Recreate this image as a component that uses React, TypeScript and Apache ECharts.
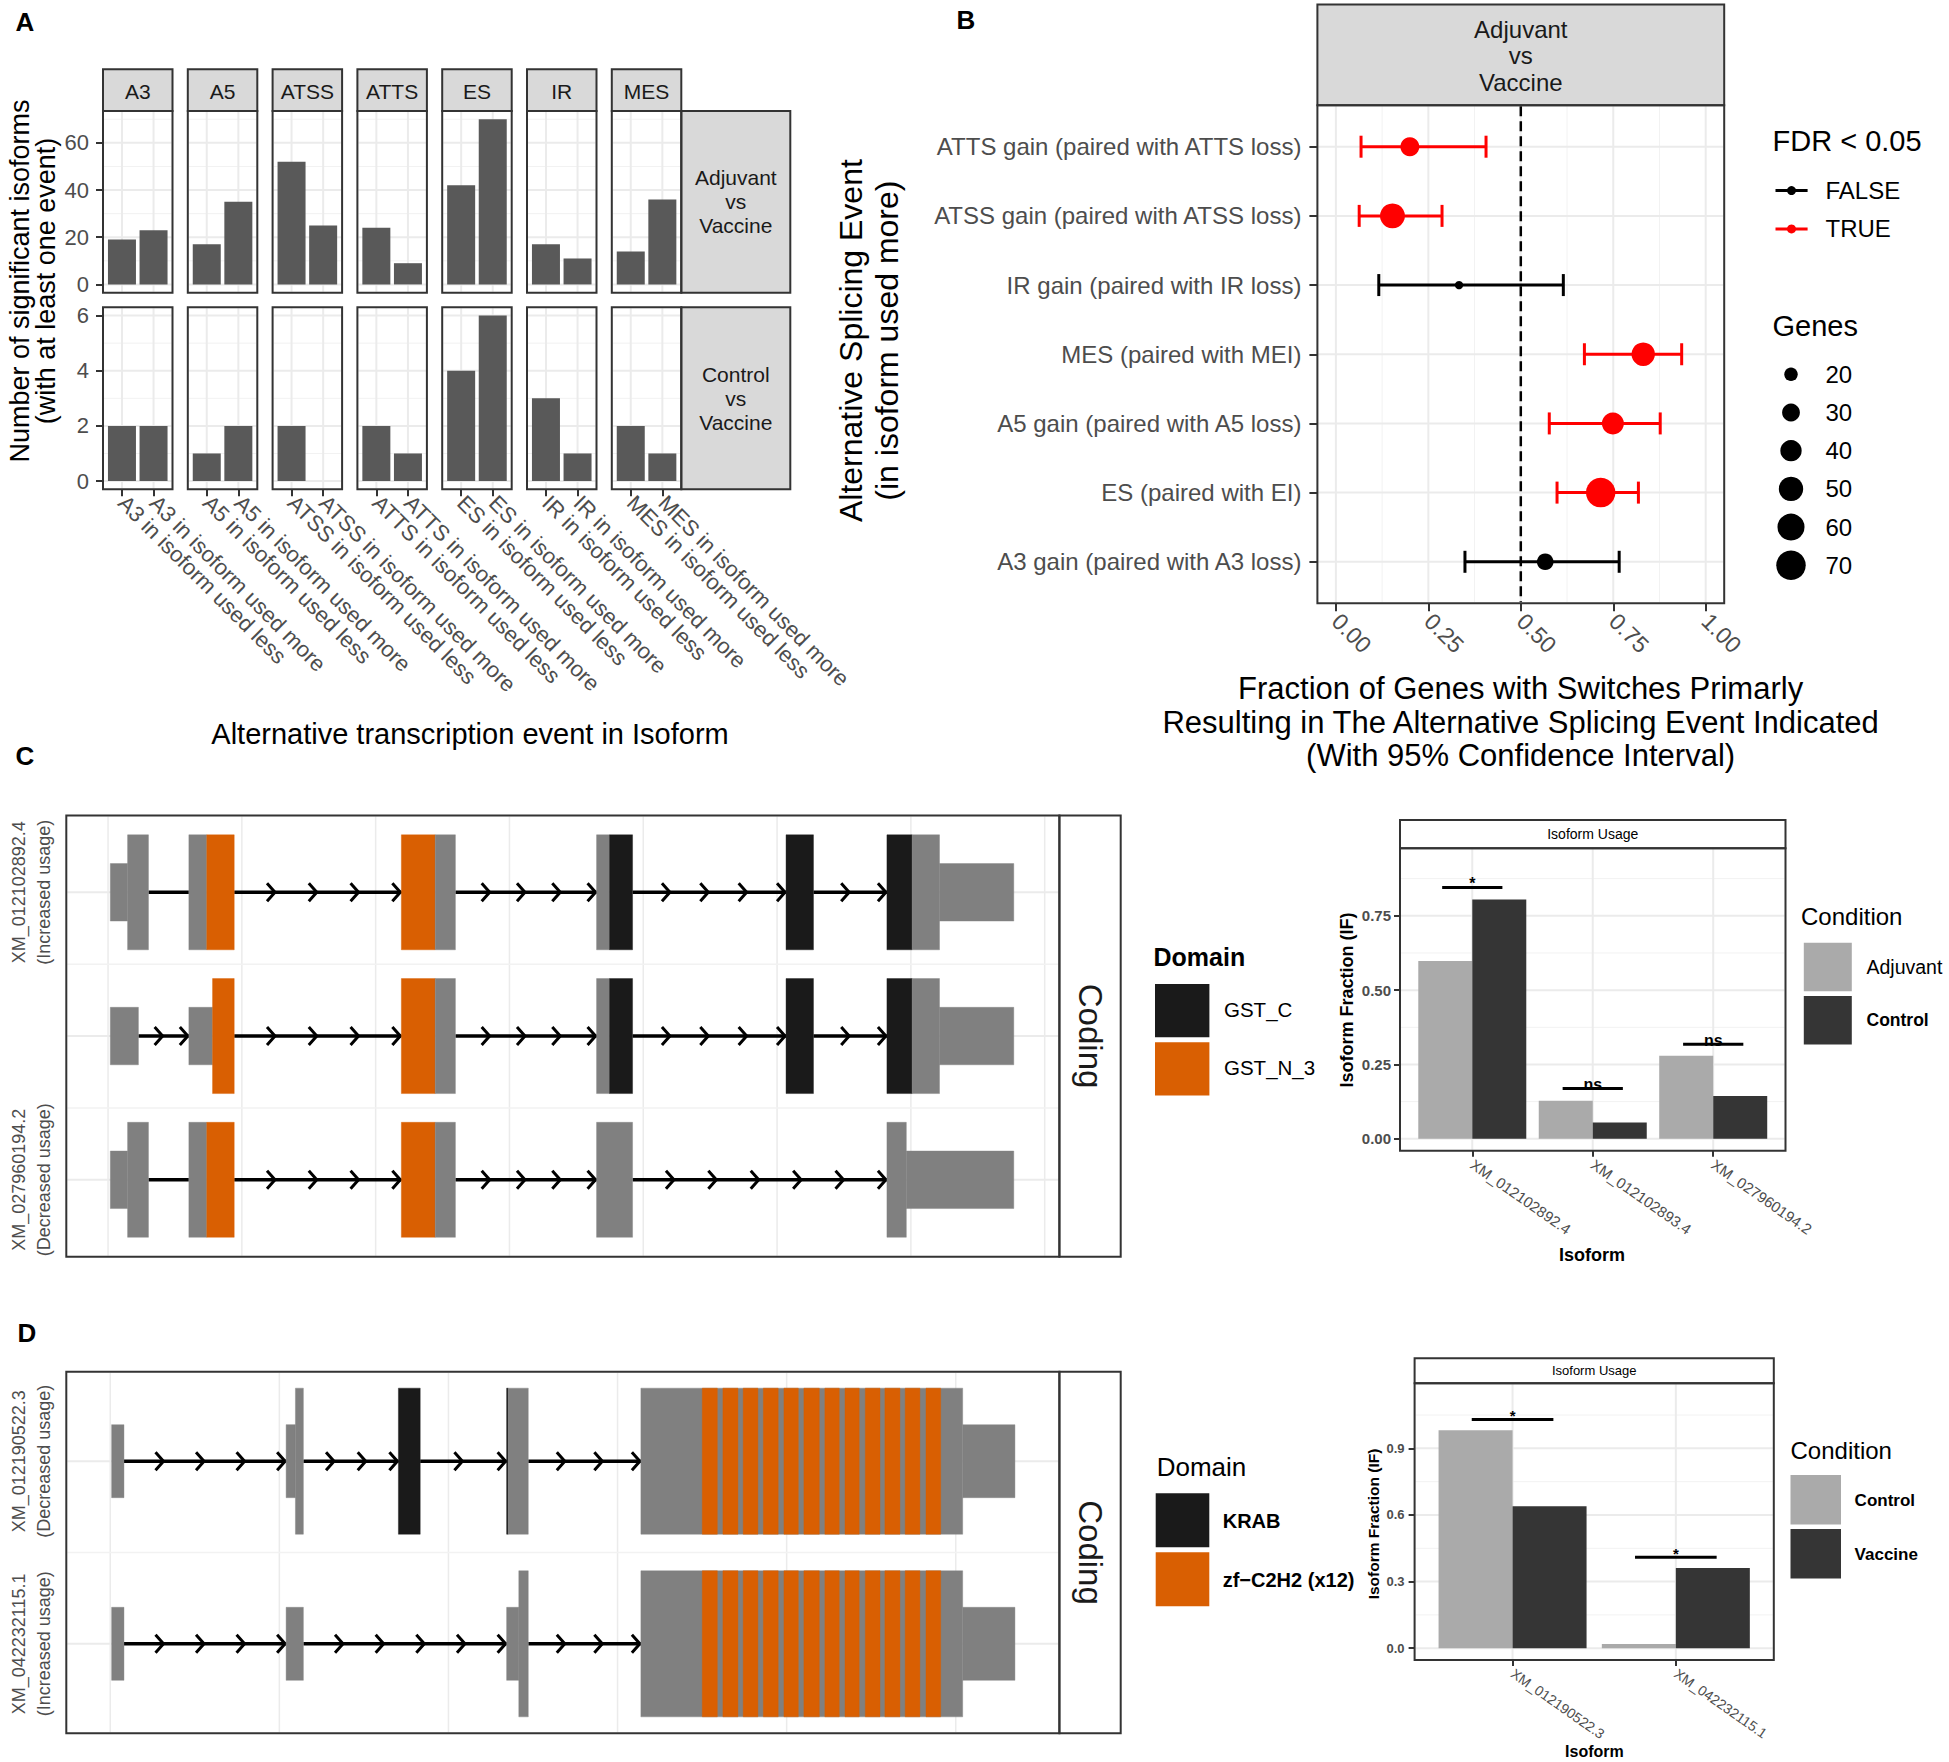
import React, { useEffect, useRef } from "react";
import * as echarts from "echarts";

// ================= DATA =================
// Panel A
const A_FACETS = ["A3", "A5", "ATSS", "ATTS", "ES", "IR", "MES"];
const A_ROW_LABELS = ["Adjuvant\nvs\nVaccine", "Control\nvs\nVaccine"];
const A_SIDES = ["less", "more"];
const A_ADJ_LESS = [19, 17, 52, 24, 42, 17, 14];
const A_ADJ_MORE = [23, 35, 25, 9, 70, 11, 36];
const A_CTRL_LESS = [2, 1, 2, 2, 4, 3, 2];
const A_CTRL_MORE = [2, 2, 0, 1, 6, 1, 1];
const A_ADJ_TICKS = [0, 20, 40, 60];
const A_ADJ_MINOR = [10, 30, 50, 70];
const A_CTRL_TICKS = [0, 2, 4, 6];
const A_CTRL_MINOR = [1, 3, 5];

// Panel B
const B_EVENTS = [
  "ATTS gain (paired with ATTS loss)",
  "ATSS gain (paired with ATSS loss)",
  "IR gain (paired with IR loss)",
  "MES (paired with MEI)",
  "A5 gain (paired with A5 loss)",
  "ES (paired with EI)",
  "A3 gain (paired with A3 loss)",
];
const B_FRACTION = [0.2, 0.153, 0.333, 0.831, 0.749, 0.716, 0.566];
const B_CI_LOW = [0.068, 0.063, 0.116, 0.672, 0.577, 0.598, 0.349];
const B_CI_HIGH = [0.406, 0.287, 0.615, 0.935, 0.877, 0.818, 0.766];
const B_GENES = [33, 52, 12, 47, 42, 70, 27];
const B_FDR_SIG = [true, true, false, true, true, true, false];
const B_X_TICKS = [0, 0.25, 0.5, 0.75, 1];
const B_X_MINOR = [0.125, 0.375, 0.625, 0.875];
const B_GENE_LEGEND = [20, 30, 40, 50, 60, 70];
const B_FDR_LEGEND = ["FALSE", "TRUE"];

// Panel C
const C_ISOFORMS = ["XM_012102892.4", "XM_012102893.4", "XM_027960194.2"];
const C_USAGE = ["(Increased usage)", "(Unchanged usage)", "(Decreased usage)"];
const C_EXONS: [number, number, number, string][] = [
  [1, 0.017, 0.146, "utr"], [1, 0.146, 0.302, "cds"],
  [1, 0.604, 0.738, "cds"], [1, 0.738, 0.943, "GST_N_3"],
  [1, 2.192, 2.445, "GST_N_3"], [1, 2.445, 2.596, "cds"],
  [1, 3.651, 3.748, "cds"], [1, 3.748, 3.92, "GST_C"],
  [1, 5.067, 5.272, "GST_C"],
  [1, 5.821, 6.009, "GST_C"], [1, 6.009, 6.214, "cds"], [1, 6.214, 6.769, "utr"],
  [2, 0.017, 0.227, "utr"],
  [2, 0.604, 0.781, "utr"], [2, 0.781, 0.943, "GST_N_3"],
  [2, 2.192, 2.445, "GST_N_3"], [2, 2.445, 2.596, "cds"],
  [2, 3.651, 3.748, "cds"], [2, 3.748, 3.92, "GST_C"],
  [2, 5.067, 5.272, "GST_C"],
  [2, 5.821, 6.009, "GST_C"], [2, 6.009, 6.214, "cds"], [2, 6.214, 6.769, "utr"],
  [3, 0.017, 0.146, "utr"], [3, 0.146, 0.302, "cds"],
  [3, 0.604, 0.738, "cds"], [3, 0.738, 0.943, "GST_N_3"],
  [3, 2.192, 2.445, "GST_N_3"], [3, 2.445, 2.596, "cds"],
  [3, 3.651, 3.92, "cds"],
  [3, 5.821, 5.966, "cds"], [3, 5.966, 6.769, "utr"],
];
const C_INTRONS: [number, number, number, number][] = [
  [1, 0.302, 0.604, 0], [1, 0.943, 2.192, 4], [1, 2.596, 3.651, 4], [1, 3.92, 5.067, 4], [1, 5.272, 5.821, 2],
  [2, 0.227, 0.604, 2], [2, 0.943, 2.192, 4], [2, 2.596, 3.651, 4], [2, 3.92, 5.067, 4], [2, 5.272, 5.821, 2],
  [3, 0.302, 0.604, 0], [3, 0.943, 2.192, 4], [3, 2.596, 3.651, 4], [3, 3.92, 5.821, 6],
];
const C_DOMAINS = ["GST_C", "GST_N_3"];
const C_CONDITIONS = ["Adjuvant", "Control"];
const C_IF_ADJUVANT = [0.598, 0.128, 0.279];
const C_IF_CONTROL = [0.805, 0.055, 0.144];
const C_SIG_Y = [0.8455, 0.169, 0.318];
const C_SIG_LABEL = ["*", "ns", "ns"];
const C_IF_TICKS = [0, 0.25, 0.5, 0.75];
const C_IF_MINOR = [0.125, 0.375, 0.625, 0.875];
const C_GENOME_GRID = [0, 1, 2, 3, 4, 5, 6, 7];

// Panel D
const D_ISOFORMS = ["XM_012190522.3", "XM_042232115.1"];
const D_USAGE = ["(Decreased usage)", "(Increased usage)"];
const D_EXONS: [number, number, number, string][] = [
  [1, 0.008, 0.081, "utr"],
  [1, 1.04, 1.095, "utr"], [1, 1.095, 1.142, "cds"],
  [1, 1.704, 1.833, "KRAB"],
  [1, 2.344, 2.353, "KRAB"], [1, 2.353, 2.472, "cds"],
  [1, 3.138, 5.041, "cds"], [1, 5.041, 5.35, "utr"],
  [2, 0.008, 0.081, "utr"],
  [2, 1.04, 1.142, "utr"],
  [2, 2.344, 2.416, "utr"], [2, 2.416, 2.472, "cds"],
  [2, 3.138, 5.041, "cds"], [2, 5.041, 5.35, "utr"],
];
const D_ZF_ROWS = [1, 2];
const D_ZF_START = [3.501, 3.623, 3.743, 3.862, 3.984, 4.102, 4.226, 4.345, 4.465, 4.581, 4.701, 4.824];
const D_ZF_END = [3.59, 3.712, 3.83, 3.95, 4.069, 4.193, 4.311, 4.429, 4.552, 4.67, 4.788, 4.911];
const D_INTRONS: [number, number, number, number][] = [
  [1, 0.081, 1.04, 4], [1, 1.142, 1.704, 3], [1, 1.833, 2.344, 2], [1, 2.472, 3.138, 3],
  [2, 0.081, 1.04, 4], [2, 1.142, 2.344, 5], [2, 2.472, 3.138, 3],
];
const D_DOMAINS = ["KRAB", "zf\u2212C2H2 (x12)"];
const D_CONDITIONS = ["Control", "Vaccine"];
const D_IF_CONTROL = [0.982, 0.019];
const D_IF_VACCINE = [0.639, 0.361];
const D_SIG_Y = [1.03, 0.41];
const D_SIG_LABEL = ["*", "*"];
const D_IF_TICKS = [0, 0.3, 0.6, 0.9];
const D_IF_MINOR = [0.15, 0.45, 0.75, 1.05];
const D_GENOME_GRID = [0, 1, 2, 3, 4, 5];

// ================= STYLE =================
const FONT = "'Liberation Sans', Arial, Helvetica, sans-serif";
const GRAY_TXT = "#4D4D4D";
const BORDER = "#333333";
const STRIP = "#D9D9D9";
const GRID_MAJOR = "#EBEBEB";
const GRID_MINOR = "#F2F2F2";
const RED = "#FF0000";
const ORANGE = "#D95F02";
const DARK = "#1A1A1A";
const EXON_GRAY = "#808080";
const BAR_A = "#595959";
const COND_LIGHT = "#AAAAAA";
const COND_DARK = "#353535";
const KINDS = ["utr", "cds", "GST_C", "GST_N_3", "KRAB", "zf-C2H2"];
const KIND_COLOR = [EXON_GRAY, EXON_GRAY, DARK, ORANGE, DARK, ORANGE];

const geneSize = (g: number) => Math.sqrt(Math.max(9, -96.5 + 13.8 * g));

type R = { x: number; y: number; w: number; h: number };

function buildOption() {
  const grids: any[] = [];
  const xAxes: any[] = [];
  const yAxes: any[] = [];
  const series: any[] = [];
  const graphics: any[] = [];

  const txt = (x: number, y: number, text: string, size: number, o: any = {}) => ({
    type: "text",
    x,
    y,
    rotation: o.rotation || 0,
    z: 100,
    silent: true,
    style: {
      text,
      fontSize: size,
      fontFamily: FONT,
      fontWeight: o.weight || "normal",
      fill: o.color || "#000",
      align: o.align || "center",
      textAlign: o.align || "center",
      verticalAlign: o.valign || "middle",
      textVerticalAlign: o.valign || "middle",
      lineHeight: o.lineHeight,
    },
  });
  const box = (r: R, fill: string, stroke: string | null, lw = 2, z = 90) => ({
    type: "rect",
    z,
    silent: true,
    shape: { x: r.x, y: r.y, width: r.w, height: r.h },
    style: { fill, stroke: stroke || undefined, lineWidth: stroke ? lw : 0 },
  });

  const axisCfg = (c: any) => ({
    type: "value",
    min: c.min,
    max: c.max,
    inverse: !!c.inverse,
    axisLine: { show: false, onZero: false },
    splitLine: { show: false },
    splitArea: { show: false },
    minorTick: { show: false },
    minorSplitLine: { show: false },
    axisTick: c.ticks
      ? { show: c.showTicks !== false, customValues: c.ticks, length: c.tickLen || 7, lineStyle: { color: BORDER, width: 2 } }
      : { show: false },
    axisLabel: c.ticks && c.labels
      ? {
          show: true,
          customValues: c.ticks,
          showMinLabel: true,
          showMaxLabel: true,
          hideOverlap: false,
          formatter: c.formatter,
          fontSize: c.fontSize,
          rotate: c.rotate || 0,
          margin: c.margin,
          color: c.color || GRAY_TXT,
          fontWeight: c.weight || "normal",
          fontFamily: FONT,
          lineHeight: c.lineHeight,
        }
      : { show: false },
  });

  const addPanel = (r: R, xc: any, yc: any, bw = 2) => {
    const gi = grids.length;
    grids.push({ left: r.x, top: r.y, width: r.w, height: r.h, show: false, containLabel: false, outerBoundsMode: "none" });
    xAxes.push({ gridIndex: gi, ...axisCfg(xc) });
    yAxes.push({ gridIndex: gi, ...axisCfg(yc) });
    graphics.push(box(r, "none", BORDER, bw, 95));
    return gi;
  };

  const gridLines = (gi: number, values: number[], orient: "h" | "v", color: string, width: number, dash?: number[]) => ({
    type: "custom",
    xAxisIndex: gi,
    yAxisIndex: gi,
    z: 1,
    silent: true,
    data: values.map((v) => [v]),
    renderItem: (params: any, api: any) => {
      const cs = params.coordSys;
      const v = api.value(0);
      const p = api.coord([v, v]);
      const shape =
        orient === "h"
          ? { x1: cs.x + 1, y1: p[1], x2: cs.x + cs.width - 1, y2: p[1] }
          : { x1: p[0], y1: cs.y + 1, x2: p[0], y2: cs.y + cs.height - 1 };
      return { type: "line", shape, style: { stroke: color, lineWidth: width, lineDash: dash } };
    },
  });

  const exonSeries = (gi: number, exons: [number, number, number, string][]) => ({
    type: "custom",
    xAxisIndex: gi,
    yAxisIndex: gi,
    z: 3,
    silent: true,
    data: exons.map(([row, s, e, k]) => [s, row, e, KINDS.indexOf(k)]),
    renderItem: (params: any, api: any) => {
      const s = api.value(0), row = api.value(1), e = api.value(2), k = api.value(3);
      const p1 = api.coord([s, row]);
      const p2 = api.coord([e, row]);
      const unit = Math.abs(api.size([0, 1])[1]);
      const h = (KINDS[k] === "utr" ? 0.4 : 0.8) * unit;
      return {
        type: "rect",
        shape: { x: p1[0], y: p1[1] - h / 2, width: p2[0] - p1[0], height: h },
        style: { fill: KIND_COLOR[k], stroke: KIND_COLOR[k], lineWidth: 0.4 },
      };
    },
  });

  const intronSeries = (gi: number, introns: [number, number, number, number][]) => ({
    type: "custom",
    xAxisIndex: gi,
    yAxisIndex: gi,
    z: 2,
    silent: true,
    data: introns.map(([row, s, e, n]) => [s, row, e, n]),
    renderItem: (params: any, api: any) => {
      const s = api.value(0), row = api.value(1), e = api.value(2), n = api.value(3);
      const p1 = api.coord([s, row]);
      const p2 = api.coord([e, row]);
      const y = p1[1];
      const children: any[] = [
        { type: "line", shape: { x1: p1[0], y1: y, x2: p2[0], y2: y }, style: { stroke: "#000", lineWidth: 3.5 } },
      ];
      for (let k = 1; k <= n; k++) {
        const tx = p1[0] + ((p2[0] - p1[0]) * k) / n - 1;
        children.push({
          type: "polyline",
          shape: { points: [[tx - 8, y - 9], [tx, y], [tx - 8, y + 9]] },
          style: { stroke: "#000", lineWidth: 3, fill: "none" },
        });
      }
      return { type: "group", children };
    },
  });

  const sigSeries = (gi: number, ys: number[], labels: string[], fontSize: number) => ({
    type: "custom",
    xAxisIndex: gi,
    yAxisIndex: gi,
    z: 4,
    silent: true,
    data: ys.map((y, k) => [k + 1, y]),
    renderItem: (params: any, api: any) => {
      const c = api.value(0), y = api.value(1);
      const p1 = api.coord([c - 0.25, y]);
      const p2 = api.coord([c + 0.25, y]);
      return {
        type: "group",
        children: [
          { type: "line", shape: { x1: p1[0], y1: p1[1], x2: p2[0], y2: p2[1] }, style: { stroke: "#000", lineWidth: 3 } },
          {
            type: "text",
            x: (p1[0] + p2[0]) / 2,
            y: p1[1] + 4,
            style: {
              text: labels[params.dataIndex],
              fontSize,
              fontFamily: FONT,
              fontWeight: "bold",
              fill: "#000",
              align: "center",
              textAlign: "center",
              verticalAlign: "bottom",
              textVerticalAlign: "bottom",
            },
          },
        ],
      };
    },
  });

  // ---------- Panel letters ----------
  graphics.push(txt(25, 22, "A", 26, { weight: "bold" }));
  graphics.push(txt(966, 20, "B", 26, { weight: "bold" }));
  graphics.push(txt(25, 756, "C", 26, { weight: "bold" }));
  graphics.push(txt(27, 1333, "D", 26, { weight: "bold" }));

  // ---------- Panel A ----------
  const A_LEFT0 = 103, A_STEP = 84.8, A_W = 69.5;
  const A_ROW_TOP = [111, 307.3];
  const A_ROW_H = [181.7, 182];
  const aRows = [
    { less: A_ADJ_LESS, more: A_ADJ_MORE, ticks: A_ADJ_TICKS, minor: A_ADJ_MINOR },
    { less: A_CTRL_LESS, more: A_CTRL_MORE, ticks: A_CTRL_TICKS, minor: A_CTRL_MINOR },
  ];
  aRows.forEach((row, r) => {
    const maxV = Math.max(...row.less, ...row.more);
    const yMin = -maxV * 0.05, yMax = maxV * 1.05;
    A_FACETS.forEach((facet, i) => {
      const rect = { x: A_LEFT0 + i * A_STEP, y: A_ROW_TOP[r], w: A_W, h: A_ROW_H[r] };
      const gi = addPanel(
        rect,
        {
          min: 0.4, max: 2.6, ticks: [1, 2], showTicks: r === 1, labels: r === 1,
          formatter: (v: number) => `${facet} in isoform used ${A_SIDES[Math.round(v) - 1]}`,
          fontSize: 22, rotate: -45, margin: 10,
        },
        {
          min: yMin, max: yMax, ticks: row.ticks, showTicks: i === 0, labels: i === 0,
          formatter: (v: number) => String(v), fontSize: 22, margin: 14,
        }
      );
      series.push(gridLines(gi, row.minor, "h", GRID_MINOR, 1));
      series.push(gridLines(gi, row.ticks, "h", GRID_MAJOR, 2));
      series.push(gridLines(gi, [1, 2], "v", GRID_MAJOR, 2));
      series.push({
        type: "bar",
        xAxisIndex: gi,
        yAxisIndex: gi,
        z: 2,
        silent: true,
        barWidth: 28,
        itemStyle: { color: BAR_A },
        data: [[1, row.less[i]], [2, row.more[i]]],
      });
      if (r === 0) {
        const s = { x: rect.x, y: 69.3, w: A_W, h: 41.7 };
        graphics.push(box(s, STRIP, BORDER, 2));
        graphics.push(txt(s.x + s.w / 2, s.y + s.h / 2 + 1, facet, 21, { color: DARK }));
      }
    });
    const rs = { x: A_LEFT0 + 6 * A_STEP + A_W, y: A_ROW_TOP[r], w: 109, h: A_ROW_H[r] };
    graphics.push(box(rs, STRIP, BORDER, 2));
    graphics.push(txt(rs.x + rs.w / 2, rs.y + rs.h / 2, A_ROW_LABELS[r], 21, { color: DARK, lineHeight: 24 }));
  });
  graphics.push(
    txt(33, 281, "Number of significant isoforms\n(with at least one event)", 27, { rotation: Math.PI / 2, lineHeight: 26 })
  );
  graphics.push(txt(470, 734, "Alternative transcription event in Isoform", 29));

  // ---------- Panel B ----------
  const bRect = { x: 1317.4, y: 105.2, w: 406.8, h: 498.1 };
  const bIdx = B_EVENTS.map((_, k) => k + 1);
  const bg = addPanel(
    bRect,
    {
      min: -0.05, max: 1.05, ticks: B_X_TICKS, labels: true, tickLen: 8,
      formatter: (v: number) => v.toFixed(2), fontSize: 23, rotate: -45, margin: 14,
    },
    {
      min: 0.4, max: 7.6, inverse: true, ticks: bIdx, labels: true, tickLen: 8,
      formatter: (v: number) => B_EVENTS[Math.round(v) - 1], fontSize: 24, margin: 16,
    }
  );
  series.push(gridLines(bg, B_X_MINOR, "v", GRID_MINOR, 1));
  series.push(gridLines(bg, B_X_TICKS, "v", GRID_MAJOR, 2));
  series.push(gridLines(bg, bIdx, "h", GRID_MAJOR, 2));
  series.push({ ...gridLines(bg, [0.5], "v", "#000", 2.5, [10, 5]), z: 2 });
  series.push({
    type: "custom",
    xAxisIndex: bg,
    yAxisIndex: bg,
    z: 3,
    silent: true,
    data: bIdx.map((k, j) => [B_CI_LOW[j], k, B_CI_HIGH[j], B_FDR_SIG[j] ? 1 : 0]),
    renderItem: (params: any, api: any) => {
      const lo = api.coord([api.value(0), api.value(1)]);
      const hi = api.coord([api.value(2), api.value(1)]);
      const color = api.value(3) ? RED : "#000";
      const h = 11;
      const st = { stroke: color, lineWidth: 3 };
      return {
        type: "group",
        children: [
          { type: "line", shape: { x1: lo[0], y1: lo[1], x2: hi[0], y2: hi[1] }, style: st },
          { type: "line", shape: { x1: lo[0], y1: lo[1] - h, x2: lo[0], y2: lo[1] + h }, style: st },
          { type: "line", shape: { x1: hi[0], y1: hi[1] - h, x2: hi[0], y2: hi[1] + h }, style: st },
        ],
      };
    },
  });
  [false, true].forEach((sig) => {
    series.push({
      type: "scatter",
      name: sig ? "TRUE" : "FALSE",
      xAxisIndex: bg,
      yAxisIndex: bg,
      z: 5,
      silent: true,
      symbol: "circle",
      symbolSize: (val: number[]) => geneSize(val[2]),
      itemStyle: { color: sig ? RED : "#000", opacity: 1 },
      data: bIdx
        .map((k, j) => (B_FDR_SIG[j] === sig ? [B_FRACTION[j], k, B_GENES[j]] : null))
        .filter((d) => d !== null),
    });
  });
  const bStrip = { x: bRect.x, y: 4.6, w: bRect.w, h: 100.6 };
  graphics.push(box(bStrip, STRIP, BORDER, 2));
  graphics.push(txt(bStrip.x + bStrip.w / 2, bStrip.y + bStrip.h / 2 + 1, "Adjuvant\nvs\nVaccine", 24, { color: DARK, lineHeight: 26.5 }));
  graphics.push(
    txt(869, 340.6, "Alternative Splicing Event\n(in isoform used more)", 32, { rotation: Math.PI / 2, lineHeight: 35.5 })
  );
  graphics.push(
    txt(
      1520.6,
      722,
      "Fraction of Genes with Switches Primarly\nResulting in The Alternative Splicing Event Indicated\n(With 95% Confidence Interval)",
      31,
      { lineHeight: 33.5 }
    )
  );
  // B legend
  graphics.push(txt(1772.5, 141, "FDR < 0.05", 29, { align: "left" }));
  B_FDR_LEGEND.forEach((lab, k) => {
    const y = 190.6 + k * 38.3;
    const col = k === 1 ? RED : "#000";
    graphics.push({ type: "line", z: 100, silent: true, shape: { x1: 1775.5, y1: y, x2: 1807.6, y2: y }, style: { stroke: col, lineWidth: 3 } });
    graphics.push({ type: "circle", z: 101, silent: true, shape: { cx: 1791.5, cy: y, r: 4.5 }, style: { fill: col } });
    graphics.push(txt(1825.5, y, lab, 24, { align: "left" }));
  });
  graphics.push(txt(1772.5, 325.5, "Genes", 29, { align: "left" }));
  B_GENE_LEGEND.forEach((g, k) => {
    const y = 374.3 + k * 38.2;
    graphics.push({ type: "circle", z: 101, silent: true, shape: { cx: 1791, cy: y, r: geneSize(g) / 2 }, style: { fill: "#000" } });
    graphics.push(txt(1825.5, y, String(g), 24, { align: "left" }));
  });

  // ---------- Panel C (transcripts) ----------
  const cRect = { x: 66.3, y: 815.4, w: 993.1, h: 441.3 };
  const cg = addPanel(
    cRect,
    { min: -0.312, max: 7.11 },
    {
      min: 0.465, max: 3.535, inverse: true, ticks: [1, 2, 3], showTicks: false, labels: true,
      formatter: (v: number) => `${C_ISOFORMS[Math.round(v) - 1]}\n${C_USAGE[Math.round(v) - 1]}`,
      fontSize: 18, rotate: 90, margin: 10, lineHeight: 25,
    }
  );
  series.push(gridLines(cg, C_GENOME_GRID, "v", GRID_MAJOR, 1.5));
  series.push(gridLines(cg, [1.5, 2.5], "h", GRID_MINOR, 1.5));
  series.push(gridLines(cg, [1, 2, 3], "h", GRID_MAJOR, 2));
  series.push(intronSeries(cg, C_INTRONS));
  series.push(exonSeries(cg, C_EXONS));
  const cCoding = { x: 1059.4, y: cRect.y, w: 61.3, h: cRect.h };
  graphics.push(box(cCoding, "#fff", BORDER, 2));
  graphics.push(txt(cCoding.x + cCoding.w / 2, cCoding.y + cCoding.h / 2, "Coding", 33, { rotation: -Math.PI / 2, color: DARK }));

  // C domain legend
  graphics.push(txt(1153.5, 956.7, "Domain", 25, { align: "left", weight: "bold" }));
  C_DOMAINS.forEach((d, k) => {
    const y = 984 + k * 58.3;
    graphics.push(box({ x: 1155, y, w: 54.4, h: 53.3 }, k === 0 ? DARK : ORANGE, null, 0, 100));
    graphics.push(txt(1224, y + 25, d, 20.5, { align: "left" }));
  });

  // C isoform usage
  const crRect = { x: 1400, y: 848.3, w: 385.5, h: 302.4 };
  const crg = addPanel(
    crRect,
    {
      min: 0.4, max: 3.6, ticks: [1, 2, 3], labels: true, tickLen: 6,
      formatter: (v: number) => C_ISOFORMS[Math.round(v) - 1], fontSize: 15, rotate: -35, margin: 12,
    },
    {
      min: -0.04, max: 0.977, ticks: C_IF_TICKS, labels: true, tickLen: 6,
      formatter: (v: number) => v.toFixed(2), fontSize: 15, margin: 9, weight: "bold",
    }
  );
  series.push(gridLines(crg, C_IF_MINOR, "h", GRID_MINOR, 1));
  series.push(gridLines(crg, C_IF_TICKS, "h", GRID_MAJOR, 2));
  series.push(gridLines(crg, [1, 2, 3], "v", GRID_MAJOR, 2));
  [C_IF_ADJUVANT, C_IF_CONTROL].forEach((vals, k) => {
    series.push({
      type: "bar",
      name: C_CONDITIONS[k],
      xAxisIndex: crg,
      yAxisIndex: crg,
      z: 2,
      silent: true,
      barWidth: 54,
      barGap: "0%",
      itemStyle: { color: k === 0 ? COND_LIGHT : COND_DARK },
      data: vals.map((v, j) => [j + 1, v]),
    });
  });
  series.push(sigSeries(crg, C_SIG_Y, C_SIG_LABEL, 16));
  const crStrip = { x: crRect.x, y: 820, w: crRect.w, h: 28.3 };
  graphics.push(box(crStrip, "#fff", BORDER, 2));
  graphics.push(txt(crStrip.x + crStrip.w / 2, crStrip.y + crStrip.h / 2, "Isoform Usage", 14));
  graphics.push(txt(1346.7, 1000, "Isoform Fraction (IF)", 18, { rotation: Math.PI / 2, weight: "bold" }));
  graphics.push(txt(1592, 1255, "Isoform", 18, { weight: "bold" }));
  graphics.push(txt(1801, 916.7, "Condition", 24, { align: "left" }));
  C_CONDITIONS.forEach((c, k) => {
    const y = 942.7 + k * 53.3;
    graphics.push(box({ x: 1803.8, y, w: 48, h: 48.5 }, k === 0 ? COND_LIGHT : COND_DARK, null, 0, 100));
    graphics.push(txt(1866.5, y + 24, c, k === 0 ? 19.5 : 17.5, { align: "left", weight: k === 0 ? "normal" : "bold" }));
  });

  // ---------- Panel D (transcripts) ----------
  const dRect = { x: 66.3, y: 1371.7, w: 993.1, h: 361.6 };
  const dg = addPanel(
    dRect,
    { min: -0.26, max: 5.613 },
    {
      min: 0.51, max: 2.49, inverse: true, ticks: [1, 2], showTicks: false, labels: true,
      formatter: (v: number) => `${D_ISOFORMS[Math.round(v) - 1]}\n${D_USAGE[Math.round(v) - 1]}`,
      fontSize: 18, rotate: 90, margin: 10, lineHeight: 25,
    }
  );
  const dExons: [number, number, number, string][] = [...D_EXONS];
  D_ZF_ROWS.forEach((row) => {
    D_ZF_START.forEach((s, k) => dExons.push([row, s, D_ZF_END[k], "zf-C2H2"]));
  });
  series.push(gridLines(dg, D_GENOME_GRID, "v", GRID_MAJOR, 1.5));
  series.push(gridLines(dg, [1.5], "h", GRID_MINOR, 1.5));
  series.push(gridLines(dg, [1, 2], "h", GRID_MAJOR, 2));
  series.push(intronSeries(dg, D_INTRONS));
  series.push(exonSeries(dg, dExons));
  const dCoding = { x: 1059.4, y: dRect.y, w: 61.3, h: dRect.h };
  graphics.push(box(dCoding, "#fff", BORDER, 2));
  graphics.push(txt(dCoding.x + dCoding.w / 2, dCoding.y + dCoding.h / 2, "Coding", 33, { rotation: -Math.PI / 2, color: DARK }));

  graphics.push(txt(1156.7, 1466.7, "Domain", 26, { align: "left" }));
  D_DOMAINS.forEach((d, k) => {
    const y = 1493.3 + k * 59;
    graphics.push(box({ x: 1155.7, y, w: 53.6, h: 54 }, k === 0 ? DARK : ORANGE, null, 0, 100));
    graphics.push(txt(1222.7, y + 28, d, 20, { align: "left", weight: "bold" }));
  });

  // D isoform usage
  const drRect = { x: 1414.6, y: 1383.3, w: 359.2, h: 276.7 };
  const drg = addPanel(
    drRect,
    {
      min: 0.4, max: 2.6, ticks: [1, 2], labels: true, tickLen: 6,
      formatter: (v: number) => D_ISOFORMS[Math.round(v) - 1], fontSize: 14, rotate: -35, margin: 12,
    },
    {
      min: -0.053, max: 1.193, ticks: D_IF_TICKS, labels: true, tickLen: 6,
      formatter: (v: number) => v.toFixed(1), fontSize: 13, margin: 10, weight: "bold",
    }
  );
  series.push(gridLines(drg, D_IF_MINOR, "h", GRID_MINOR, 1));
  series.push(gridLines(drg, D_IF_TICKS, "h", GRID_MAJOR, 2));
  series.push(gridLines(drg, [1, 2], "v", GRID_MAJOR, 2));
  [D_IF_CONTROL, D_IF_VACCINE].forEach((vals, k) => {
    series.push({
      type: "bar",
      name: D_CONDITIONS[k],
      xAxisIndex: drg,
      yAxisIndex: drg,
      z: 2,
      silent: true,
      barWidth: 74,
      barGap: "0%",
      itemStyle: { color: k === 0 ? COND_LIGHT : COND_DARK },
      data: vals.map((v, j) => [j + 1, v]),
    });
  });
  series.push(sigSeries(drg, D_SIG_Y, D_SIG_LABEL, 15));
  const drStrip = { x: drRect.x, y: 1358.3, w: drRect.w, h: 25 };
  graphics.push(box(drStrip, "#fff", BORDER, 2));
  graphics.push(txt(drStrip.x + drStrip.w / 2, drStrip.y + drStrip.h / 2, "Isoform Usage", 13));
  graphics.push(txt(1373, 1524, "Isoform Fraction (IF)", 15.5, { rotation: Math.PI / 2, weight: "bold" }));
  graphics.push(txt(1594.4, 1751.7, "Isoform", 16, { weight: "bold" }));
  graphics.push(txt(1790.5, 1450, "Condition", 24, { align: "left" }));
  D_CONDITIONS.forEach((c, k) => {
    const y = 1475 + k * 54;
    graphics.push(box({ x: 1790.5, y, w: 50.5, h: 49.5 }, k === 0 ? COND_LIGHT : COND_DARK, null, 0, 100));
    graphics.push(txt(1854.6, y + 25, c, 17, { align: "left", weight: "bold" }));
  });

  return {
    animation: false,
    backgroundColor: "#ffffff",
    textStyle: { fontFamily: FONT },
    grid: grids,
    xAxis: xAxes,
    yAxis: yAxes,
    series,
    graphic: { elements: graphics },
  };
}

export default function App() {
  const ref = useRef<HTMLDivElement>(null);
  useEffect(() => {
    if (!ref.current) return;
    const chart = echarts.init(ref.current, null, { renderer: "svg" });
    chart.setOption(buildOption() as any);
    return () => chart.dispose();
  }, []);
  return (
    <div
      ref={ref}
      style={{ position: "absolute", left: 0, top: 0, width: 1949, height: 1762, background: "#fff" }}
    />
  );
}
